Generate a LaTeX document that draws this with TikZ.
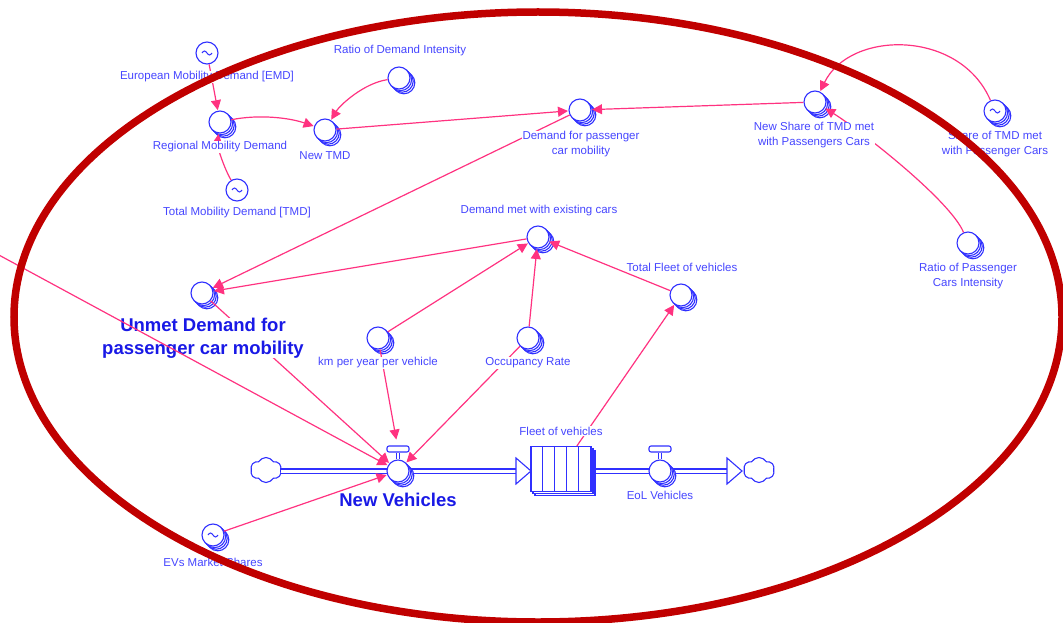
\documentclass[tikz,border=0pt]{standalone}
\usepackage{fontspec}
\setmainfont{Liberation Sans}
\usetikzlibrary{arrows.meta,shapes.symbols,shadows}
\definecolor{cblue}{RGB}{48,48,255}
\definecolor{tblue}{RGB}{70,70,255}
\definecolor{bblue}{RGB}{25,25,230}
\definecolor{cpink}{RGB}{255,50,128}
\definecolor{cred}{RGB}{192,0,0}
\tikzset{
  shd/.style={shadow xshift=#1,shadow yshift=-#1,fill=white,draw=cblue,line width=1.1pt},
  stk/.style={copy shadow={shd=4.8pt},copy shadow={shd=3.2pt},copy shadow={shd=1.6pt}},
  stktwo/.style={copy shadow={shd=4pt},copy shadow={shd=2pt}},
  var/.style={circle,draw=cblue,fill=white,line width=1.1pt,minimum size=22pt,inner sep=0pt},
  svar/.style={var,stk},
  lbl/.style={text=tblue,font=\fontsize{11.5}{15}\selectfont,fill=white,inner sep=0.5pt,align=center},
  blbl/.style={text=bblue,font=\fontsize{18.5}{23}\selectfont\bfseries,fill=white,inner sep=0pt,align=center},
  conn/.style={draw=cpink,line width=1.2pt,-{Triangle[length=10pt,width=10pt]},shorten >=0.5pt},
  tld/.style={draw=cblue,line width=1pt},
  pipe/.style={draw=cblue,double=white,double distance=3pt,line width=1.4pt},
  sky/.style={cloud,cloud puffs=6,cloud puff arc=120,aspect=1.3,draw=cblue,fill=white,line width=1.1pt,minimum width=31pt,minimum height=25pt,inner sep=0pt},
  handle/.style={rectangle,rounded corners=2pt,draw=cblue,fill=white,line width=1.1pt,minimum width=22pt,minimum height=6pt,inner sep=0pt},
  stockbox/.style={rectangle,draw=cblue,fill=white,line width=1.1pt,minimum width=60pt,minimum height=45pt,inner sep=0pt,stktwo},
  tri/.style={draw=cblue,fill=white,line width=1.1pt}
}
\begin{document}
\begin{tikzpicture}[x=1pt,y=-1pt]
\useasboundingbox (0,0) rectangle (1063,623);
% flow structure
\node[sky] (c1) at (266,470) {};
\node[sky] (c2) at (759,470) {};
\coordinate (t1) at (516,471);
\coordinate (t2) at (727,471);
\node[stockbox] (stock) at (561,469) {};
\draw[pipe] (c1.east |- t1) -- (t1);
\draw[pipe] (stock.east |- t2) -- (t2);
\node[stockbox] at (stock) {};
\foreach \i in {1,...,4}
  \draw[cblue,line width=1.1pt] ([xshift=\i*12pt]stock.north west) -- ([xshift=\i*12pt]stock.south west);
\draw[tri] (t1) -- ++(0,-13) -- ++(15,13) -- ++(-15,13) -- cycle;
\draw[tri] (t2) -- ++(0,-13) -- ++(15,13) -- ++(-15,13) -- cycle;
% valves
\node[handle] (nvh) at (398,449) {};
\node[svar] (nv) at (398,471) {};
\draw[draw=cblue,double=white,double distance=1.8pt,line width=1pt] (nv.north) -- (nvh.south);
\node[handle] (eolh) at (660,449) {};
\node[svar] (eol) at (660,471) {};
\draw[draw=cblue,double=white,double distance=1.8pt,line width=1pt] (eol.north) -- (eolh.south);
% auxiliaries
\node[var] (emd) at (207,53) {};
\node[svar] (rdi) at (399,78) {};
\node[svar] (reg) at (220,122) {};
\node[svar] (ntmd) at (325,130) {};
\node[var] (tmd) at (237,190) {};
\node[svar] (dpc) at (580,110) {};
\node[svar] (nsh) at (815,102) {};
\node[svar] (sh) at (995,111) {};
\node[svar] (rpc) at (968,243) {};
\node[svar] (dme) at (538,237) {};
\node[svar] (tfl) at (681,295) {};
\node[svar] (unm) at (202,293) {};
\node[svar] (km) at (378,338) {};
\node[svar] (occ) at (528,338) {};
\node[svar] (evs) at (213,535) {};
\foreach \n in {emd,tmd,sh,evs}
  \draw[tld] ([xshift=-5pt]\n.center) sin ++(2.5pt,2pt) cos ++(2.5pt,-2pt) sin ++(2.5pt,-2pt) cos ++(2.5pt,2pt);
% connectors
\draw[conn] (emd) -- (reg);
\draw[conn] (reg) .. controls +(40,-8) and +(-35,-12) .. (ntmd);
\draw[conn] (rdi) .. controls +(-35,5) and +(15,-25) .. (ntmd);
\draw[conn] (tmd) .. controls +(-12,-20) and +(-3,25) .. (reg);
\draw[conn] (ntmd) -- (dpc);
\draw[conn] (nsh) -- (dpc);
\draw[conn] (dpc) -- (unm);
\draw[conn] (dme) -- (unm);
\draw[conn] (sh) .. controls +(-35,-82) and +(35,-72) .. (nsh);
\draw[conn] (rpc) .. controls +(-18,-43) and +(45,28) .. (nsh);
\draw[conn] (km) -- (dme);
\draw[conn] (occ) -- (dme);
\draw[conn] (tfl) -- (dme);
\draw[conn] (stock) -- (tfl);
\draw[conn] (unm) -- (nv);
\draw[conn,shorten >=6pt] (km) -- (nvh);
\draw[conn] (occ) -- (nv);
\draw[conn] (evs) -- (nv);
% labels
\node[lbl] (lemd) at (207,77) {European Mobility Demand [EMD]};
\node[lbl] (lrdi) at (400,51) {Ratio of Demand Intensity};
\node[lbl] (lreg) at (220,147) {Regional Mobility Demand};
\node[lbl] (lntmd) at (325,156) {New TMD};
\node[lbl] (ltmd) at (237,213) {Total Mobility Demand [TMD]};
\node[lbl] (ldpc) at (581,144.5) {Demand for passenger\\car mobility};
\node[lbl] (lnsh) at (814,135.5) {New Share of TMD met\\with Passengers Cars};
\node[lbl] (lsh) at (995,144.5) {Share of TMD met\\with Passenger Cars};
\node[lbl] (lrpc) at (968,276.5) {Ratio of Passenger\\Cars Intensity};
\node[lbl] (ldme) at (539,211) {Demand met with existing cars};
\node[lbl] (ltfl) at (682,267) {Total Fleet of vehicles};
\node[blbl] (lunm) at (203,338) {Unmet Demand for\\passenger car mobility};
\node[lbl] (lkm) at (378,363) {km per year per vehicle};
\node[lbl] (locc) at (528,363) {Occupancy Rate};
\node[blbl] (lnv) at (398,500) {New Vehicles};
\node[lbl] (lstock) at (561,431) {Fleet of vehicles};
\node[lbl] (leol) at (660,495) {EoL Vehicles};
\node[lbl] (levs) at (213,562) {EVs Market Shares};
% external connector
\coordinate (ext) at (-3,254);
\draw[conn] (ext) -- (nv);
% highlight ellipse
\draw[cred,line width=7.5pt] (538,317) ellipse [x radius=524pt, y radius=305pt];
\end{tikzpicture}
\end{document}
